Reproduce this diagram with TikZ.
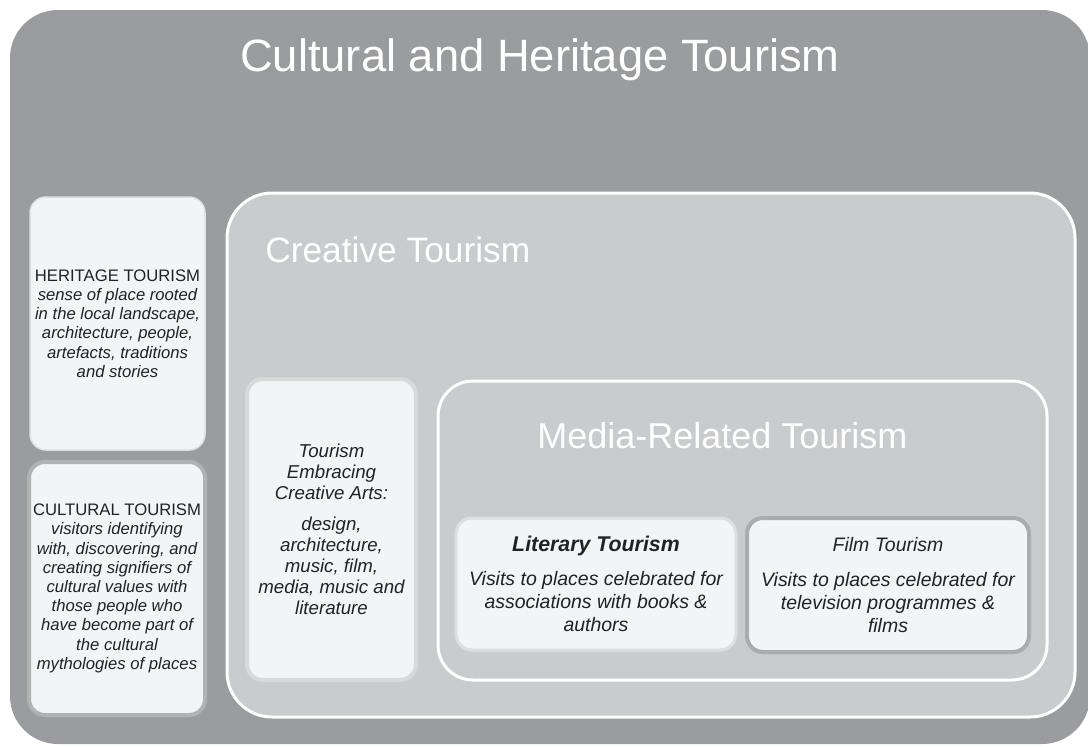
\documentclass[tikz,border=0pt]{standalone}
\usepackage{fontspec}
\setmainfont{Liberation Sans}
\usepackage{tikz}
\usetikzlibrary{positioning}
\definecolor{outergrey}{HTML}{9B9CA0}
\definecolor{creativegrey}{HTML}{CACBCE}
\definecolor{boxwhite}{HTML}{F3F4F5}
\definecolor{inktext}{HTML}{222222}
\newcommand\px{0.75pt}
\newcommand\titlefont{\fontsize{34}{40}\selectfont}
\newcommand\headfont{\fontsize{26.5}{32}\selectfont}
\newcommand\smallbody{\fontsize{12.5}{14.4}\selectfont}
\newcommand\midbody{\fontsize{14}{15.8}\selectfont}
\newcommand\bigbody{\fontsize{14.6}{17.3}\selectfont}
\tikzstyle{panel}     = [rectangle, inner sep=0pt, align=center, text=inktext]
\tikzstyle{outerbox}  = [panel, fill=outergrey, rounded corners=48*\px]
\tikzstyle{framebox}  = [panel, fill=creativegrey, draw=white, line width=3*\px]
\tikzstyle{textbox}   = [panel, fill=boxwhite, rounded corners=16*\px, font=\itshape]
\tikzstyle{heading}   = [inner sep=0pt, text=white, anchor=base west]

\begin{document}
\begin{tikzpicture}[x=0.75pt, y=-0.75pt]
    \useasboundingbox (0, 0) rectangle (1088, 746);
    \draw (550, 377) node[outerbox, minimum width=1080*\px, minimum height=734*\px] (cht) {};
    \draw (540, 71) node[heading, anchor=base, font=\titlefont] (chtitle) {Cultural and Heritage Tourism};
    \draw (117.5, 323.5) node[textbox, font=\smallbody\itshape, draw=black!12, line width=1.5*\px,
        minimum width=175*\px, minimum height=253*\px] (heritage)
        {\upshape HERITAGE TOURISM\\ sense of place rooted\\ in the local landscape,\\
         architecture, people,\\ artefacts, traditions\\ and stories};
    \draw (117, 588.5) node[textbox, font=\smallbody\itshape, draw=black!30, line width=4*\px,
        minimum width=176*\px, minimum height=253*\px] (cultural)
        {\upshape CULTURAL TOURISM\\ visitors identifying\\ with, discovering, and\\
         creating signifiers of\\ cultural values with\\ those people who\\
         have become part of\\ the cultural\\ mythologies of places};
    \draw (651, 455) node[framebox, rounded corners=45*\px, minimum width=848*\px, minimum height=524*\px] (creative) {};
    \draw (265, 262) node[heading, font=\headfont] (crtitle) {Creative Tourism};
    \draw (331.5, 529.5) node[textbox, font=\midbody\itshape, draw=black!15, line width=4*\px,
        minimum width=169*\px, minimum height=301*\px] (arts)
        {Tourism\\ Embracing\\ Creative Arts:\\[7pt]
         design,\\ architecture,\\ music, film,\\ media, music and\\ literature};
    \draw (742.5, 530.5) node[framebox, rounded corners=35*\px, minimum width=609*\px, minimum height=299*\px] (media) {};
    \draw (537, 448) node[heading, font=\fontsize{27}{32}\selectfont] (mrtitle) {Media-Related Tourism};
    \draw (596, 584) node[textbox, font=\bigbody\itshape, draw=black!13, line width=3*\px,
        minimum width=280*\px, minimum height=132*\px] (literary)
        {\fontsize{16}{18}\selectfont\bfseries Literary Tourism\\[8pt] Visits to places celebrated for\\
         associations with books \&\\ authors};
    \draw (888, 585) node[textbox, font=\bigbody\itshape, draw=black!33, line width=4*\px,
        minimum width=282*\px, minimum height=134*\px] (film)
        {Film Tourism\\[9pt] Visits to places celebrated for\\
         television programmes \&\\ films};
\end{tikzpicture}
\end{document}
